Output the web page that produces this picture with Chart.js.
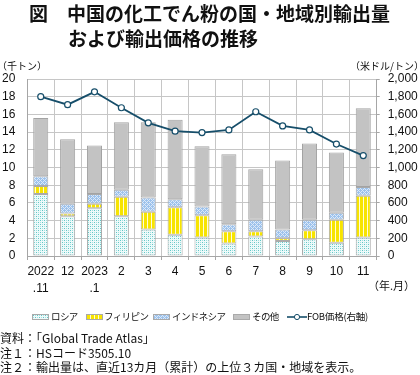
<!DOCTYPE html>
<html>
<head>
<meta charset="utf-8">
<script src="https://cdn.jsdelivr.net/npm/chart.js@4.4.1/dist/chart.umd.min.js"></script>
<style>
  html, body { margin: 0; padding: 0; background: #fff; }
  #wrap { position: relative; width: 420px; height: 375px; overflow: hidden; background: #fff; }
  #c { position: absolute; left: 0; top: 0; }
  .t { position: absolute; white-space: nowrap; color: #111; font-family: "Noto Sans CJK JP", "Noto Sans", sans-serif; line-height: 1; }
  .title { font-size: 19px; font-weight: bold; color: #111; }
  .unit { font-size: 10px; }
  .leg { font-size: 9.5px; letter-spacing: -0.6px; }
  .note { font-size: 12px; }
  .sw { position: absolute; height: 6px; width: 17px; box-sizing: border-box; border: 1px solid #aaa; }
</style>
</head>
<body>
<div id="wrap">
  <canvas id="c" width="420" height="375"></canvas>
  <div class="t title" style="left:29px; top:3px;">図　中国の化工でん粉の国・地域別輸出量</div>
  <div class="t title" style="left:68px; top:28px;">および輸出価格の推移</div>
  <div class="t unit" style="left:-3px; top:61px;">（千トン）</div>
  <div class="t unit" style="right:-4px; top:61px;">（米ドル/トン）</div>
  <div class="t" style="left:368px; top:280px; font-size:11px;">（年.月）</div>

  <div class="sw" id="sw0" style="left:32px; top:314px;"></div>
  <div class="t leg" style="left:51px; top:312px;">ロシア</div>
  <div class="sw" id="sw1" style="left:86px; top:314px;"></div>
  <div class="t leg" style="left:104px; top:312px;">フィリピン</div>
  <div class="sw" id="sw2" style="left:153px; top:314px;"></div>
  <div class="t leg" style="left:172px; top:312px;">インドネシア</div>
  <div class="sw" id="sw3" style="left:233px; top:314px; background:#c3c3c3;"></div>
  <div class="t leg" style="left:252px; top:312px;">その他</div>
  <canvas id="lg" width="20" height="8" style="position:absolute; left:287px; top:313px;"></canvas>
  <div class="t leg" style="left:307px; top:312px; letter-spacing:-0.2px;">FOB価格(右軸)</div>

  <div class="t note" style="left:0px; top:332px;">資料：「Global Trade Atlas」</div>
  <div class="t note" style="left:0px; top:347px;">注１：HSコード3505.10</div>
  <div class="t note" style="left:0px; top:361px;">注２：輸出量は、直近13カ月（累計）の上位３カ国・地域を表示。</div>
</div>
<script>
// ---- data ----
const categories = [["2022", ".11"], "12", ["2023", ".1"], "2", "3", "4", "5", "6", "7", "8", "9", "10", "11"];
const russia     = [7.0, 4.5, 5.4, 4.5, 3.0, 2.4, 2.1, 1.4, 2.2, 1.7, 1.9, 1.5, 2.1];
const philippines= [0.9, 0.3, 0.5, 2.2, 2.0, 3.1, 2.5, 1.4, 0.6, 0.3, 1.0, 2.6, 4.7];
const indonesia  = [1.1, 1.1, 1.1, 0.8, 1.6, 0.9, 1.0, 0.8, 1.3, 1.0, 1.2, 0.8, 1.0];
const others     = [6.6, 7.3, 5.5, 7.6, 8.5, 9.0, 6.8, 7.9, 5.7, 7.8, 8.6, 6.8, 8.9];
const fobPrice   = [1800, 1710, 1855, 1675, 1505, 1410, 1395, 1425, 1630, 1470, 1425, 1265, 1135];
const leftTicks  = { min: 0, max: 20, step: 2 };
const rightTicks = { min: 0, max: 2000, step: 200 };
const seriesNames = ["ロシア", "フィリピン", "インドネシア", "その他", "FOB価格(右軸)"];

// ---- patterns ----
function makeTile(w, h, fn) {
  const c = document.createElement('canvas');
  c.width = w; c.height = h;
  const g = c.getContext('2d');
  fn(g);
  return c;
}
function px(g, x, y, col) { g.fillStyle = col; g.fillRect(x, y, 1, 1); }
const tileRussia = makeTile(4, 4, g => {
  g.fillStyle = '#eefafa'; g.fillRect(0, 0, 4, 4);
  px(g, 0, 0, '#62c6c6'); px(g, 2, 2, '#62c6c6');
  px(g, 2, 0, '#a5e0e0'); px(g, 0, 2, '#a5e0e0');
});
const tilePhil = makeTile(4, 4, g => {
  g.fillStyle = '#f7e400'; g.fillRect(0, 0, 4, 4);
  g.fillStyle = '#fffbd8'; g.fillRect(3, 0, 1, 4);
});
const tileIndo = makeTile(4, 4, g => {
  g.fillStyle = '#9cc2ec'; g.fillRect(0, 0, 4, 4);
  [[0,0],[1,1],[2,2],[3,3],[1,3],[3,1]].forEach(p => px(g, p[0], p[1], '#dde9f8'));
});
const ctx = document.getElementById('c').getContext('2d');
const patRussia = ctx.createPattern(tileRussia, 'repeat');
const patPhil = ctx.createPattern(tilePhil, 'repeat');
const patIndo = ctx.createPattern(tileIndo, 'repeat');
document.getElementById('sw0').style.background = 'url(' + tileRussia.toDataURL() + ')';
document.getElementById('sw1').style.background = 'url(' + tilePhil.toDataURL() + ')';
document.getElementById('sw2').style.background = 'url(' + tileIndo.toDataURL() + ')';

const lineColor = '#164e6a';
(function () {
  const g = document.getElementById('lg').getContext('2d');
  g.strokeStyle = lineColor; g.lineWidth = 1.6;
  g.beginPath(); g.moveTo(0, 4); g.lineTo(20, 4); g.stroke();
  g.fillStyle = '#fff'; g.lineWidth = 1;
  g.beginPath(); g.arc(10, 4, 2.6, 0, Math.PI * 2); g.fill(); g.stroke();
})();

const gridColor = '#c6c6c6';
const axisColor = '#a6a6a6';
const tickFont = { family: '"Liberation Sans", Arial, sans-serif', size: 12 };

const barCommon = {
  type: 'bar', stack: 'vol', yAxisID: 'y', order: 2,
  borderColor: '#aaaaaa', borderWidth: 1, borderSkipped: false,
  categoryPercentage: 1.0, barPercentage: 0.56
};

new Chart(ctx, {
  data: {
    labels: categories,
    datasets: [
      Object.assign({ label: seriesNames[0], data: russia, backgroundColor: patRussia }, barCommon),
      Object.assign({ label: seriesNames[1], data: philippines, backgroundColor: patPhil }, barCommon),
      Object.assign({ label: seriesNames[2], data: indonesia, backgroundColor: patIndo }, barCommon),
      Object.assign({ label: seriesNames[3], data: others, backgroundColor: '#c3c3c3' }, barCommon, { borderColor: '#a3a3a3' }),
      {
        type: 'line', label: seriesNames[4], data: fobPrice, yAxisID: 'y2', order: 0,
        borderColor: lineColor, borderWidth: 1.8, tension: 0,
        pointRadius: 3, pointBackgroundColor: '#ffffff', pointBorderColor: lineColor, pointBorderWidth: 1.2
      }
    ]
  },
  options: {
    responsive: false,
    animation: false,
    devicePixelRatio: 1,
    layout: { padding: { left: 0, right: 0, top: 79, bottom: 79 } },
    plugins: { legend: { display: false }, title: { display: false }, tooltip: { enabled: false } },
    scales: {
      x: {
        stacked: true,
        offset: true,
        grid: { display: true, offset: true, color: gridColor, drawOnChartArea: true, drawTicks: true, tickLength: 4, tickColor: axisColor },
        border: { display: true, color: axisColor },
        ticks: { color: '#111', font: Object.assign({ lineHeight: 1.35 }, tickFont), padding: 4, maxRotation: 0, autoSkip: false },
        afterFit: s => { s.height = 40; }
      },
      y: {
        position: 'left', stacked: true,
        min: leftTicks.min, max: leftTicks.max,
        grid: { color: gridColor, drawTicks: false },
        border: { display: true, color: axisColor },
        ticks: { stepSize: leftTicks.step, color: '#111', font: tickFont, padding: 12 },
        afterFit: s => { s.width = 27.3; }
      },
      y2: {
        position: 'right',
        min: rightTicks.min, max: rightTicks.max,
        grid: { drawOnChartArea: false, drawTicks: true, tickLength: 3, tickColor: axisColor },
        border: { display: true, color: axisColor },
        ticks: { stepSize: rightTicks.step, color: '#111', font: tickFont, padding: 8,
                 callback: v => Number(v).toLocaleString('en-US') },
        afterFit: s => { s.width = 420 - 376.7; }
      }
    }
  }
});
</script>
</body>
</html>
